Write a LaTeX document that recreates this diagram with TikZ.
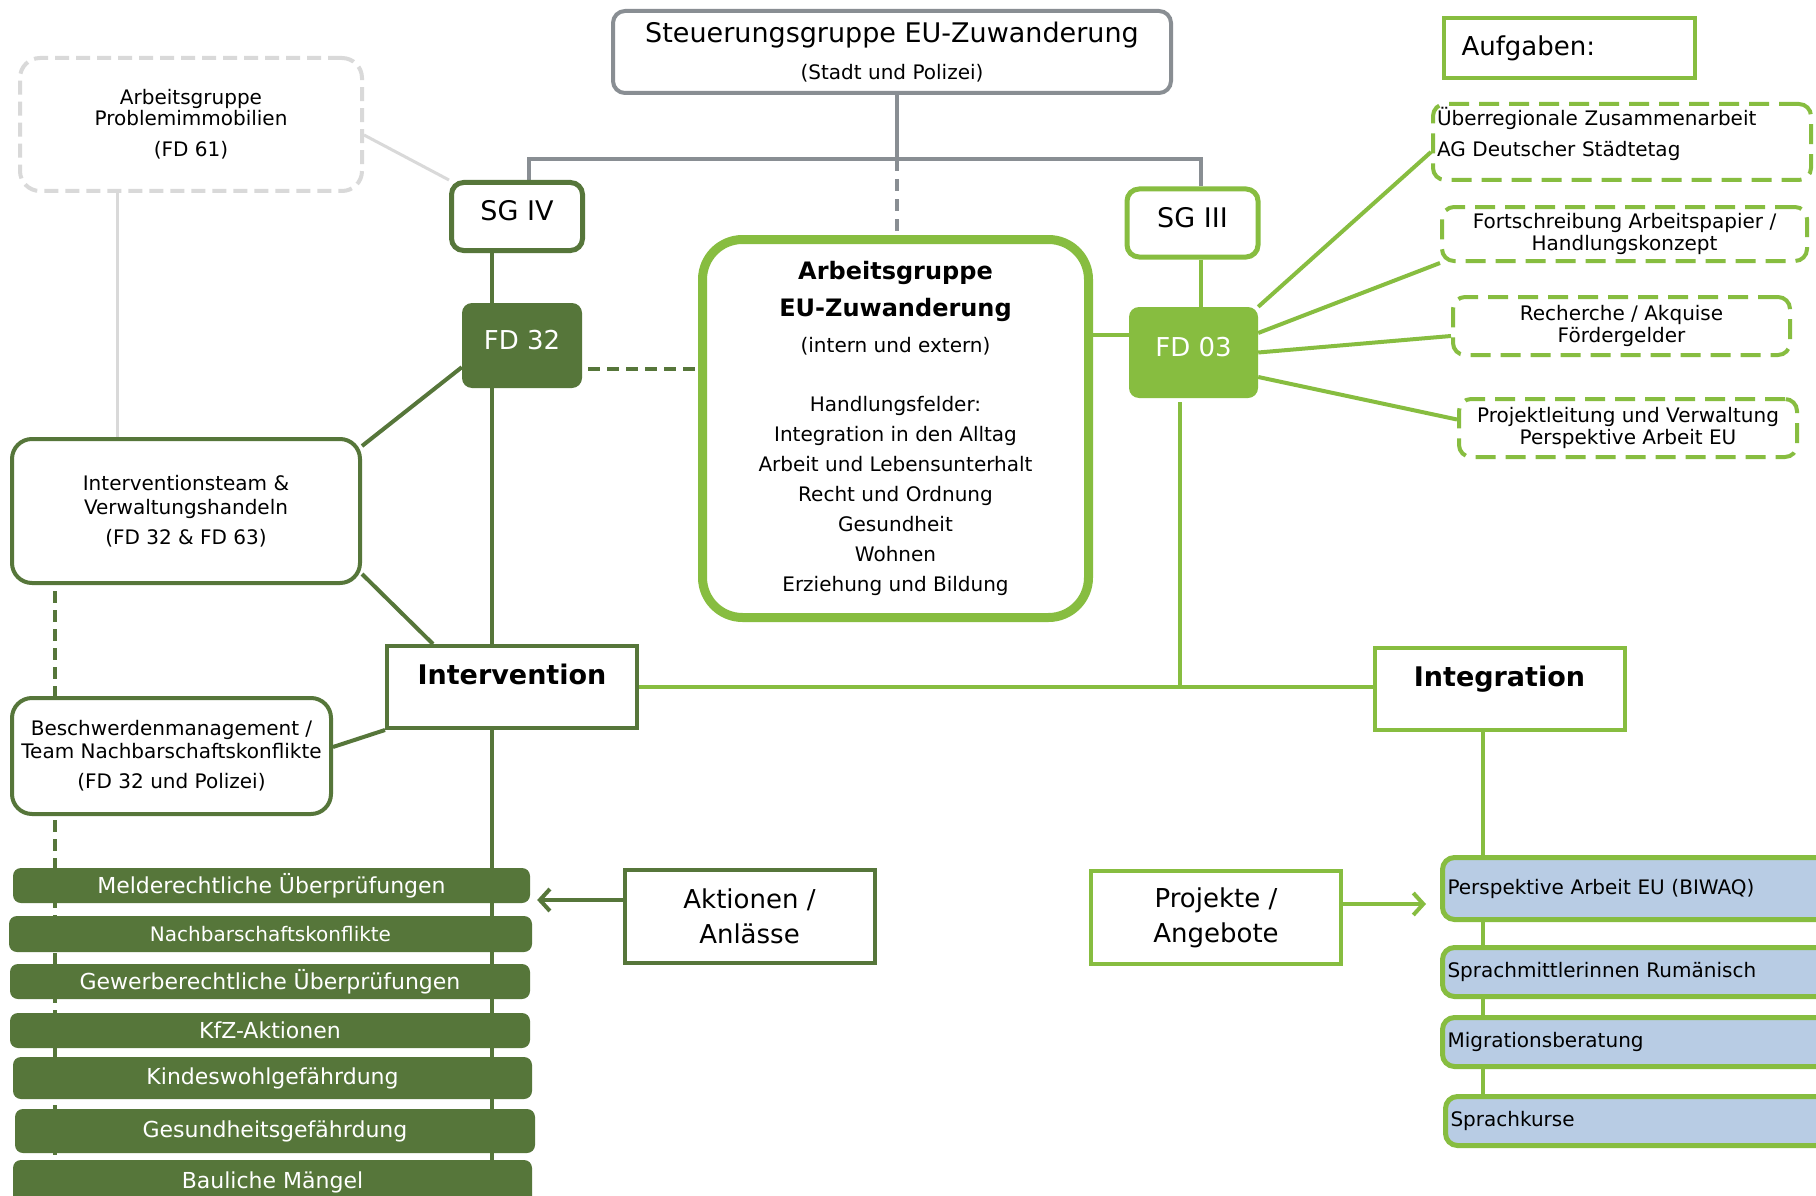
\documentclass[tikz,border=0pt]{standalone}
\usepackage{fontspec}
\setmainfont{DejaVu Sans}
\usetikzlibrary{arrows.meta,backgrounds}
\definecolor{sgdark}{RGB}{86,118,58}
\definecolor{sglight}{RGB}{135,189,64}
\definecolor{sggray}{RGB}{137,142,147}
\definecolor{proggray}{RGB}{217,217,217}
\definecolor{projblue}{RGB}{184,204,228}
\tikzset{
  plainbox/.style={rectangle, align=center, inner sep=2pt, fill=white, font=\fontsize{20}{23}\selectfont},
  sgbox/.style={plainbox, line width=5pt, rounded corners=12pt, minimum width=131pt, minimum height=68pt, font=\fontsize{27}{30}\selectfont, text depth=12pt},
  fdbox/.style={rectangle, rounded corners=10pt, text=white, font=\fontsize{26}{30}\selectfont, text depth=12pt},
  teambox/.style={plainbox, draw=sgdark, line width=4pt, rounded corners=20pt},
  headbox/.style={plainbox, line width=4pt, minimum width=250pt, minimum height=82pt, font=\bfseries\fontsize{27}{30}\selectfont, text depth=26pt},
  actbox/.style={plainbox, line width=4pt, minimum width=250pt, minimum height=93pt, font=\fontsize{26}{35}\selectfont},
  bar/.style={rectangle, fill=sgdark, rounded corners=8pt, text=white, font=\fontsize{22}{26}\selectfont},
  offer/.style={rectangle, draw=sglight, fill=projblue, line width=5pt, rounded corners=12pt, anchor=west, text width=380pt, inner xsep=5pt, align=left, font=\fontsize{20}{24}\selectfont},
  task/.style={plainbox, draw=sglight, line width=4pt, dash pattern=on 20pt off 10pt, rounded corners=12pt, font=\fontsize{20}{22}\selectfont},
  dline/.style={draw=sgdark, line width=4pt},
  lline/.style={draw=sglight, line width=4pt},
  gline/.style={draw=sggray, line width=4pt},
  pline/.style={draw=proggray, line width=3pt},
  pointer/.style={-{Straight Barb[length=10pt,width=22pt]}}
}
\begin{document}
\begin{tikzpicture}[x=1pt, y=-1pt]
    \begin{pgfonlayer}{background}
        \fill[white] (0,0) rectangle (1816,1196);
    \end{pgfonlayer}
    \useasboundingbox (0,0) rectangle (1816,1196);
    \coordinate (junc) at (897,159);
    \coordinate (spine) at (492,0);
    \coordinate (dspine) at (54.5,0);
    \coordinate (gspine) at (117,0);
    \coordinate (sgline) at (1201,0);
    \coordinate (fspine) at (1180,0);
    \coordinate (ispine) at (1483,0);
    \coordinate (bottom) at (0,1196);

    \node[plainbox, draw=sggray, line width=4pt, rounded corners=12pt, minimum width=558pt, minimum height=82pt] (steuer) at (892,52) {{\fontsize{27}{30}\selectfont Steuerungsgruppe EU-Zuwanderung}\\[14pt](Stadt und Polizei)};
    \node[plainbox, draw=proggray, line width=4pt, dash pattern=on 14pt off 7pt, rounded corners=20pt, minimum width=342pt, minimum height=133pt, font=\fontsize{20}{21}\selectfont] (prob) at (191,124.5) {Arbeitsgruppe\\Problemimmobilien\\[10pt](FD 61)};
    \node[sgbox, draw=sgdark] (sg4) at (517,216.5) {SG IV};
    \node[fdbox, fill=sgdark, minimum width=120pt, minimum height=85pt] (fd32) at (522,345.5) {FD 32};
    \node[plainbox, draw=sglight, line width=9pt, rounded corners=40pt, minimum width=386pt, minimum height=378pt, font=\fontsize{20}{30}\selectfont] (ageu) at (895.5,428.5) {{\bfseries\fontsize{24}{30}\selectfont Arbeitsgruppe}\\[7pt]{\bfseries\fontsize{24}{30}\selectfont EU-Zuwanderung}\\[6pt](intern und extern)\\[29pt]Handlungsfelder:\\Integration in den Alltag\\Arbeit und Lebensunterhalt\\Recht und Ordnung\\Gesundheit\\Wohnen\\Erziehung und Bildung};
    \node[sgbox, draw=sglight] (sg3) at (1192.5,223) {SG III};
    \node[fdbox, fill=sglight, minimum width=129pt, minimum height=91pt] (fd03) at (1193.5,352.5) {FD 03};
    \node[plainbox, draw=sglight, line width=4pt, text width=215pt, inner xsep=18pt, minimum height=60pt, align=left, font=\fontsize{26}{30}\selectfont] (aufg) at (1569,48) {Aufgaben:};
    \node[task, text width=370pt, inner xsep=4pt, minimum height=76pt, align=left, text depth=52pt] (taska) at (1622,142) {Überregionale Zusammenarbeit\\[9pt]AG Deutscher Städtetag};
    \node[task, minimum width=365pt, minimum height=54pt] (taskb) at (1624.5,234) {Fortschreibung Arbeitspapier /\\Handlungskonzept};
    \node[task, minimum width=337pt, minimum height=58pt] (taskc) at (1621.5,326) {Recherche / Akquise\\Fördergelder};
    \node[task, minimum width=338pt, minimum height=58pt] (taskd) at (1628,428) {Projektleitung und Verwaltung\\Perspektive Arbeit EU};
    \node[teambox, minimum width=348pt, minimum height=144pt] (team) at (186,511) {Interventionsteam \&\\[1pt]Verwaltungshandeln\\[7pt](FD 32 \& FD 63)};
    \node[teambox, minimum width=319pt, minimum height=116pt] (besch) at (171.5,756) {Beschwerdenmanagement /\\Team Nachbarschaftskonflikte\\[7pt](FD 32 und Polizei)};
    \node[headbox, draw=sgdark] (interv) at (512,687) {Intervention};
    \node[headbox, draw=sglight] (integ) at (1499.5,689) {Integration};
    \node[actbox, draw=sgdark] (akt) at (749.5,916) {Aktionen /\\Anlässe};
    \node[actbox, draw=sglight] (proj) at (1216,917.5) {Projekte /\\Angebote};
    \node[bar, minimum width=517pt, minimum height=35pt] (melde) at (271.5,885.5) {Melderechtliche Überprüfungen};
    \node[bar, minimum width=523pt, minimum height=36pt, font=\fontsize{20}{24}\selectfont] (nachbar) at (270.5,934) {Nachbarschaftskonflikte};
    \node[bar, minimum width=520pt, minimum height=35pt] (gewerbe) at (270,981.5) {Gewerberechtliche Überprüfungen};
    \node[bar, minimum width=520pt, minimum height=35pt] (kfz) at (270,1030.5) {KfZ-Aktionen};
    \node[bar, minimum width=519pt, minimum height=42pt] (kindes) at (272.5,1078) {Kindeswohlgefährdung};
    \node[bar, minimum width=520pt, minimum height=44pt] (gesund) at (275,1131) {Gesundheitsgefährdung};
    \node[bar, minimum width=519pt, minimum height=44pt] (baulich) at (272.5,1182) {Bauliche Mängel};
    \node[offer, minimum height=62pt] (persp) at (1440,888.5) {Perspektive Arbeit EU (BIWAQ)};
    \node[offer, minimum height=49pt] (sprachm) at (1440,972) {Sprachmittlerinnen Rumänisch};
    \node[offer, minimum height=49pt] (migr) at (1440,1042) {Migrationsberatung};
    \node[offer, minimum height=49pt] (sprachk) at (1443,1121) {Sprachkurse};

    \begin{pgfonlayer}{background}
        \draw[gline] (steuer.south -| junc) -- (junc);
        \draw[gline] ([xshift=12pt]sg4.north) |- (junc) -| ([xshift=8.5pt]sg3.north);
        \draw[gline, dash pattern=on 12pt off 8pt] (junc) -- (junc |- ageu.north);
        \draw[pline] ([yshift=-10.5pt]prob.east) -- (sg4.north west);
        \draw[pline] (prob.south -| gspine) -- (team.north -| gspine);
        \draw[dline] (sg4.south -| spine) -- (fd32.north -| spine);
        \draw[dline] (fd32.south -| spine) -- (interv.north -| spine);
        \draw[dline] (interv.south -| spine) -- (spine |- bottom);
        \draw[dline, dash pattern=on 12pt off 7pt, shorten <=6pt] ([yshift=-23.5pt]fd32.east) coordinate (c1) -- (c1 -| ageu.west);
        \draw[dline] ([yshift=-9pt]team.north east) -- ([yshift=21pt]fd32.south west);
        \draw[dline] ([yshift=11pt]team.south east) -- ([xshift=48pt]interv.north west);
        \draw[dline] ([yshift=9pt]besch.east) -- (interv.south west);
        \draw[dline, dash pattern=on 12pt off 7pt, shorten <=6pt] (team.south -| dspine) -- (besch.north -| dspine);
        \draw[dline, dash pattern=on 12pt off 7pt, shorten <=4pt] (besch.south -| dspine) -- (dspine |- bottom);
        \draw[lline] (sg3.south -| sgline) -- (fd03.north -| sgline);
        \draw[lline] ([yshift=17.5pt]fd03.west) coordinate (c2) -- (c2 -| ageu.east);
        \draw[lline, shorten <=4pt] (fd03.south -| fspine) -- (fspine |- interv.east);
        \draw[lline] (interv.east) -- (interv.east -| integ.west);
        \draw[lline] (integ.south -| ispine) -- (sprachk.north -| ispine);
        \draw[lline] (fd03.north east) -- ([yshift=-10pt]taska.west);
        \draw[lline] ([yshift=19.5pt]fd03.east) -- (taskb.south west);
        \draw[lline] (fd03.east) -- ([yshift=-10pt]taskc.west);
        \draw[lline] ([yshift=-24.5pt]fd03.east) -- ([yshift=8.5pt]taskd.west);
    \end{pgfonlayer}
    \draw[dline, pointer, shorten >=7pt] ([yshift=16pt]akt.west) coordinate (c3) -- (c3 -| melde.east);
    \draw[lline, pointer, shorten >=14pt] ([yshift=13.5pt]proj.east) coordinate (c4) -- (c4 -| persp.west);
\end{tikzpicture}
\end{document}
